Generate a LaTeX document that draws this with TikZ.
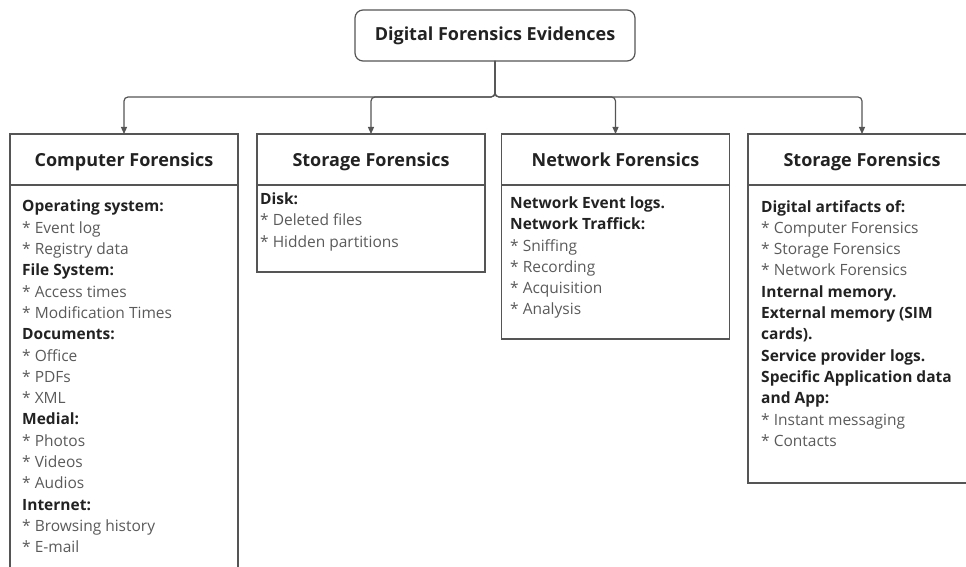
\documentclass[tikz,border=0pt]{standalone}
\usepackage{fontspec}
\setmainfont{Open Sans}
\usetikzlibrary{arrows.meta}
\definecolor{edge}{HTML}{555555}
\definecolor{ink}{HTML}{222222}
\definecolor{soft}{HTML}{5A5A5A}
\newcommand\itemhead[1]{{\bfseries\color{ink}#1}}
\begin{document}
\begin{tikzpicture}[x=1pt,y=-1pt,
  frame/.style={draw=edge, line width=1.2pt, inner sep=0pt, outer sep=0pt},
  rootbox/.style={frame, rounded corners=8pt, minimum width=280pt, minimum height=51pt,
    text height=13.5pt, text depth=3.5pt,
    font=\fontsize{18}{22}\selectfont\bfseries, text=ink},
  headbox/.style={frame, minimum width=228pt, minimum height=51pt,
    text height=15pt, text depth=1pt,
    font=\fontsize{18}{22}\selectfont\bfseries, text=ink},
  bodybox/.style={frame, minimum width=228pt, anchor=north},
  listtext/.style={anchor=north west, inner sep=0pt, align=left,
    font=\fontsize{15.5}{21.3}\selectfont, text=soft},
  link/.style={draw=edge, line width=1.2pt, rounded corners=4pt,
    -{Triangle[length=7pt,width=6pt]}}]
\useasboundingbox (0,0) rectangle (966,567);
\clip (0,0) rectangle (966,567);

% root
\node[rootbox] (root) at (495,35.5) {Digital Forensics Evidences};
\coordinate (bus) at (495,97);

% headers
\node[headbox] (h1) at (124,159.5) {Computer Forensics};
\node[headbox] (h2) at (371,159.5) {Storage Forensics};
\node[headbox] (h3) at (615.5,159.5) {Network Forensics};
\node[headbox] (h4) at (862,159.5) {Storage Forensics};

% bodies
\node[bodybox, minimum height=420pt] (b1) at (h1.south) {};
\node[bodybox, minimum height=87pt]  (b2) at (h2.south) {};
\node[bodybox, minimum height=154pt] (b3) at (h3.south) {};
\node[bodybox, minimum height=298pt] (b4) at (h4.south) {};

% connectors
\foreach \h in {h1,h2,h3,h4}
  \draw[link] (root.south) -- (root.south |- bus) -| (\h.north);

% lists
\node[listtext] (t1) at (22,200) {\itemhead{Operating system:}\\
* Event log\\
* Registry data\\
\itemhead{File System:}\\
* Access times\\
* Modification Times\\
\itemhead{Documents:}\\
* Office\\
* PDFs\\
* XML\\
\itemhead{Medial:}\\
* Photos\\
* Videos\\
* Audios\\
\itemhead{Internet:}\\
* Browsing history\\
* E-mail};

\node[listtext] (t2) at (260,192.5) {\itemhead{Disk:}\\
* Deleted files\\
* Hidden partitions};

\node[listtext] (t3) at (510,196.5) {\itemhead{Network Event logs.}\\
\itemhead{Network Traffick:}\\
* Sniffing\\
* Recording\\
* Acquisition\\
* Analysis};

\node[listtext] (t4) at (761,200) {\itemhead{Digital artifacts of:}\\
* Computer Forensics\\
* Storage Forensics\\
* Network Forensics\\
\itemhead{Internal memory.}\\
\itemhead{External memory (SIM}\\
\itemhead{cards).}\\
\itemhead{Service provider logs.}\\
\itemhead{Specific Application data}\\
\itemhead{and App:}\\
* Instant messaging\\
* Contacts};
\end{tikzpicture}
\end{document}
